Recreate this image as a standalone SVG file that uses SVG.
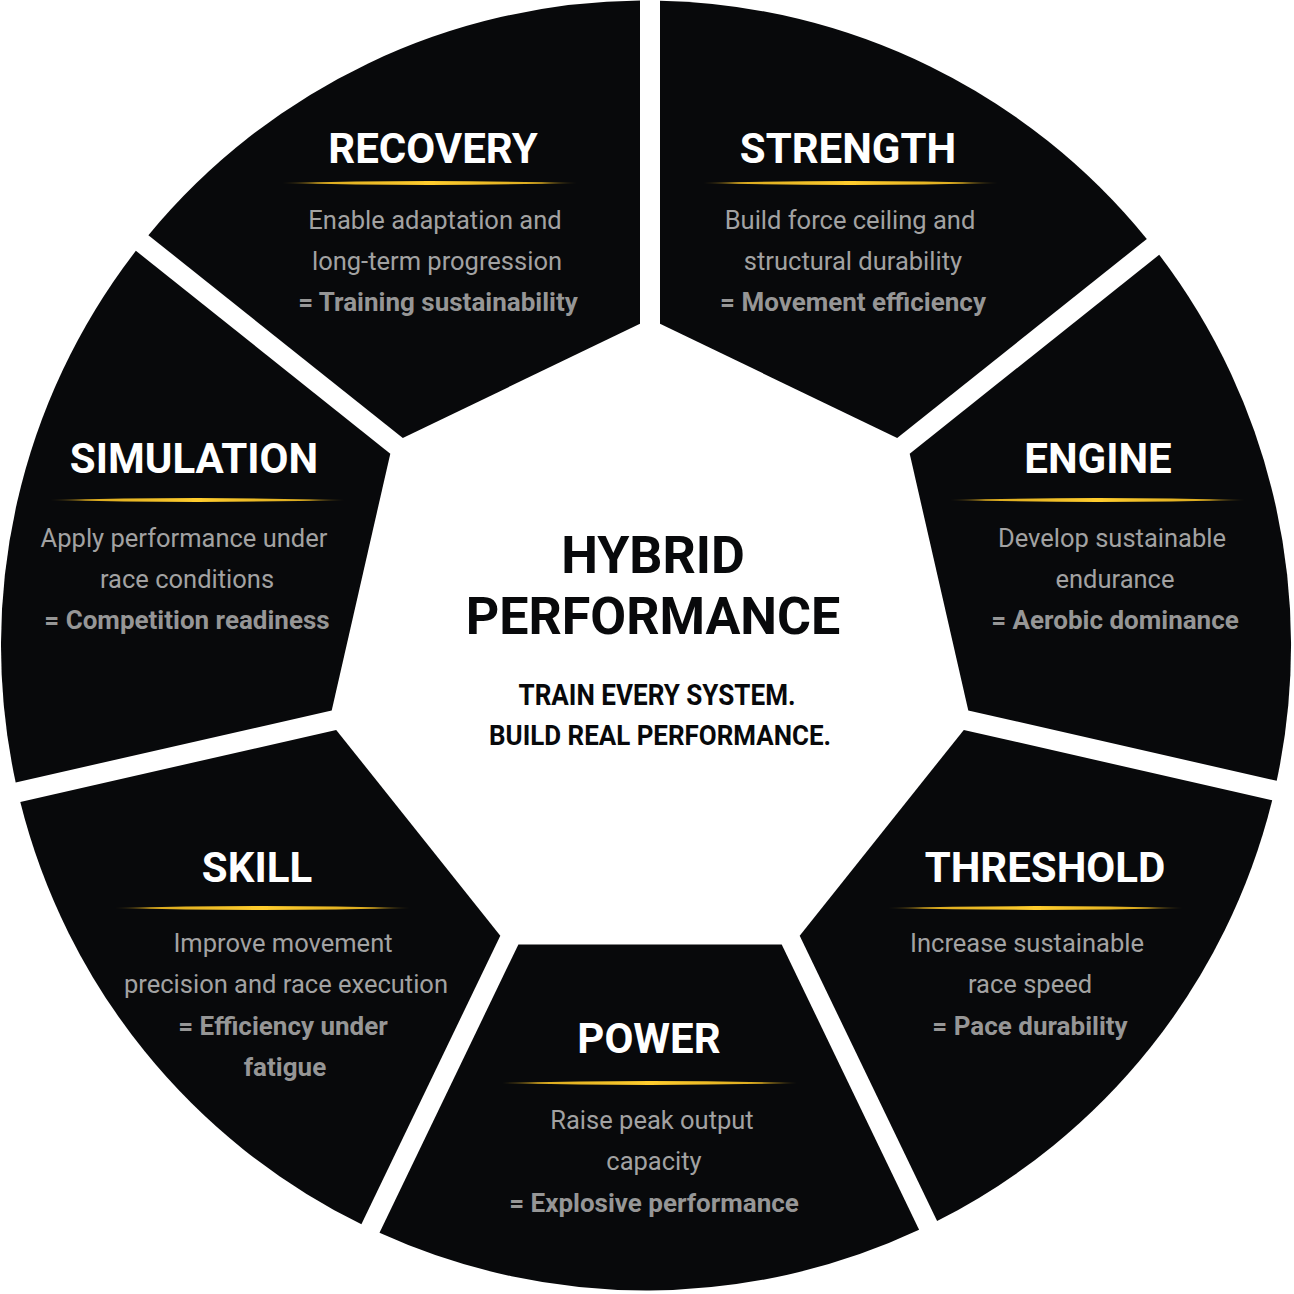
<svg xmlns="http://www.w3.org/2000/svg" width="1294" height="1294" viewBox="0 0 1294 1294">
<defs>
<linearGradient id="gold" x1="0" y1="0" x2="1" y2="0">
<stop offset="0" stop-color="#8a6d1a" stop-opacity="0.35"/>
<stop offset="0.12" stop-color="#d9a91f"/>
<stop offset="0.5" stop-color="#ffcd2e"/>
<stop offset="0.88" stop-color="#d9a91f"/>
<stop offset="1" stop-color="#8a6d1a" stop-opacity="0.35"/>
</linearGradient>
<style>
.seg{fill:#08090b}
.title{font-family:Roboto,"Liberation Sans",sans-serif;font-weight:700;font-size:42px;fill:#ffffff;text-anchor:middle}
.desc{font-family:Roboto,"Liberation Sans",sans-serif;font-weight:400;font-size:25.5px;fill:#a2a2a2;text-anchor:middle}
.eq{font-family:Roboto,"Liberation Sans",sans-serif;font-weight:700;font-size:26px;fill:#969696;text-anchor:middle}
.gl{fill:url(#gold)}
.ct{font-family:Roboto,"Liberation Sans",sans-serif;font-weight:700;fill:#08090b;text-anchor:middle}
</style>
</defs>
<rect width="1294" height="1294" fill="#ffffff"/>

<g id="strength">
<path class="seg" d="M660,0.7 A645,645 0 0 1 1146.8,239 L897.2,438 L660,323.8 Z"/>
<text class="title" x="848" y="163">STRENGTH</text>
<path class="gl" d="M703,183 Q850.5,179.2 998,183 Q850.5,186.8 703,183 Z"/>
<text class="desc" x="850" y="229">Build force ceiling and</text>
<text class="desc" x="853" y="270">structural durability</text>
<text class="eq" x="853" y="311">= Movement efficiency</text>
</g>

<g id="engine">
<path class="seg" d="M1159.2,254.8 A645,645 0 0 1 1276.7,780.8 L968.3,710.4 L909.7,453.7 Z"/>
<text class="title" x="1098" y="473">ENGINE</text>
<path class="gl" d="M950,500 Q1097.5,496.2 1245,500 Q1097.5,503.8 950,500 Z"/>
<text class="desc" x="1112" y="547">Develop sustainable</text>
<text class="desc" x="1115" y="588">endurance</text>
<text class="eq" x="1115" y="629">= Aerobic dominance</text>
</g>

<g id="threshold">
<path class="seg" d="M1272.2,800.3 A645,645 0 0 1 937.1,1221.1 L799.7,935.7 L963.8,729.9 Z"/>
<text class="title" x="1045" y="882">THRESHOLD</text>
<path class="gl" d="M888,908 Q1035.5,904.2 1183,908 Q1035.5,911.8 888,908 Z"/>
<text class="desc" x="1027" y="952">Increase sustainable</text>
<text class="desc" x="1030" y="993">race speed</text>
<text class="eq" x="1030" y="1035">= Pace durability</text>
</g>

<g id="power">
<path class="seg" d="M919.1,1229.8 A645,645 0 0 1 379.5,1232.8 L518.4,944.4 L781.7,944.4 Z"/>
<text class="title" x="649" y="1053">POWER</text>
<path class="gl" d="M502,1083 Q649.5,1079.2 797,1083 Q649.5,1086.8 502,1083 Z"/>
<text class="desc" x="652" y="1129">Raise peak output</text>
<text class="desc" x="654" y="1170">capacity</text>
<text class="eq" x="654" y="1212">= Explosive performance</text>
</g>

<g id="skill">
<path class="seg" d="M361.4,1224.3 A645,645 0 0 1 20.3,802 L336.2,729.9 L500.3,935.7 Z"/>
<text class="title" x="257" y="882">SKILL</text>
<path class="gl" d="M115,908 Q262.5,904.2 410,908 Q262.5,911.8 115,908 Z"/>
<text class="desc" x="283" y="952">Improve movement</text>
<text class="desc" x="286" y="993">precision and race execution</text>
<text class="eq" x="283" y="1035">= Efficiency under</text>
<text class="eq" x="285" y="1076">fatigue</text>
</g>

<g id="simulation">
<path class="seg" d="M15.7,782.5 A645,645 0 0 1 135.9,250.8 L390.3,453.7 L331.7,710.4 Z"/>
<text class="title" x="194" y="473">SIMULATION</text>
<path class="gl" d="M50,500 Q197.5,496.2 345,500 Q197.5,503.8 50,500 Z"/>
<text class="desc" x="184" y="547">Apply performance under</text>
<text class="desc" x="187" y="588">race conditions</text>
<text class="eq" x="187" y="629">= Competition readiness</text>
</g>

<g id="recovery">
<path class="seg" d="M148.4,235.2 A645,645 0 0 1 640,0.5 L640,323.8 L402.8,438 Z"/>
<text class="title" x="433" y="163">RECOVERY</text>
<path class="gl" d="M282,183 Q429.5,179.2 577,183 Q429.5,186.8 282,183 Z"/>
<text class="desc" x="435" y="229">Enable adaptation and</text>
<text class="desc" x="437" y="270">long-term progression</text>
<text class="eq" x="438" y="311">= Training sustainability</text>
</g>

<g id="center">
<text class="ct" x="653" y="573" font-size="52">HYBRID</text>
<text class="ct" x="653" y="634" font-size="52">PERFORMANCE</text>
<text class="ct" x="657" y="705" font-size="29" textLength="277" lengthAdjust="spacingAndGlyphs">TRAIN EVERY SYSTEM.</text>
<text class="ct" x="660" y="745" font-size="28" textLength="342" lengthAdjust="spacingAndGlyphs">BUILD REAL PERFORMANCE.</text>
</g>
</svg>
